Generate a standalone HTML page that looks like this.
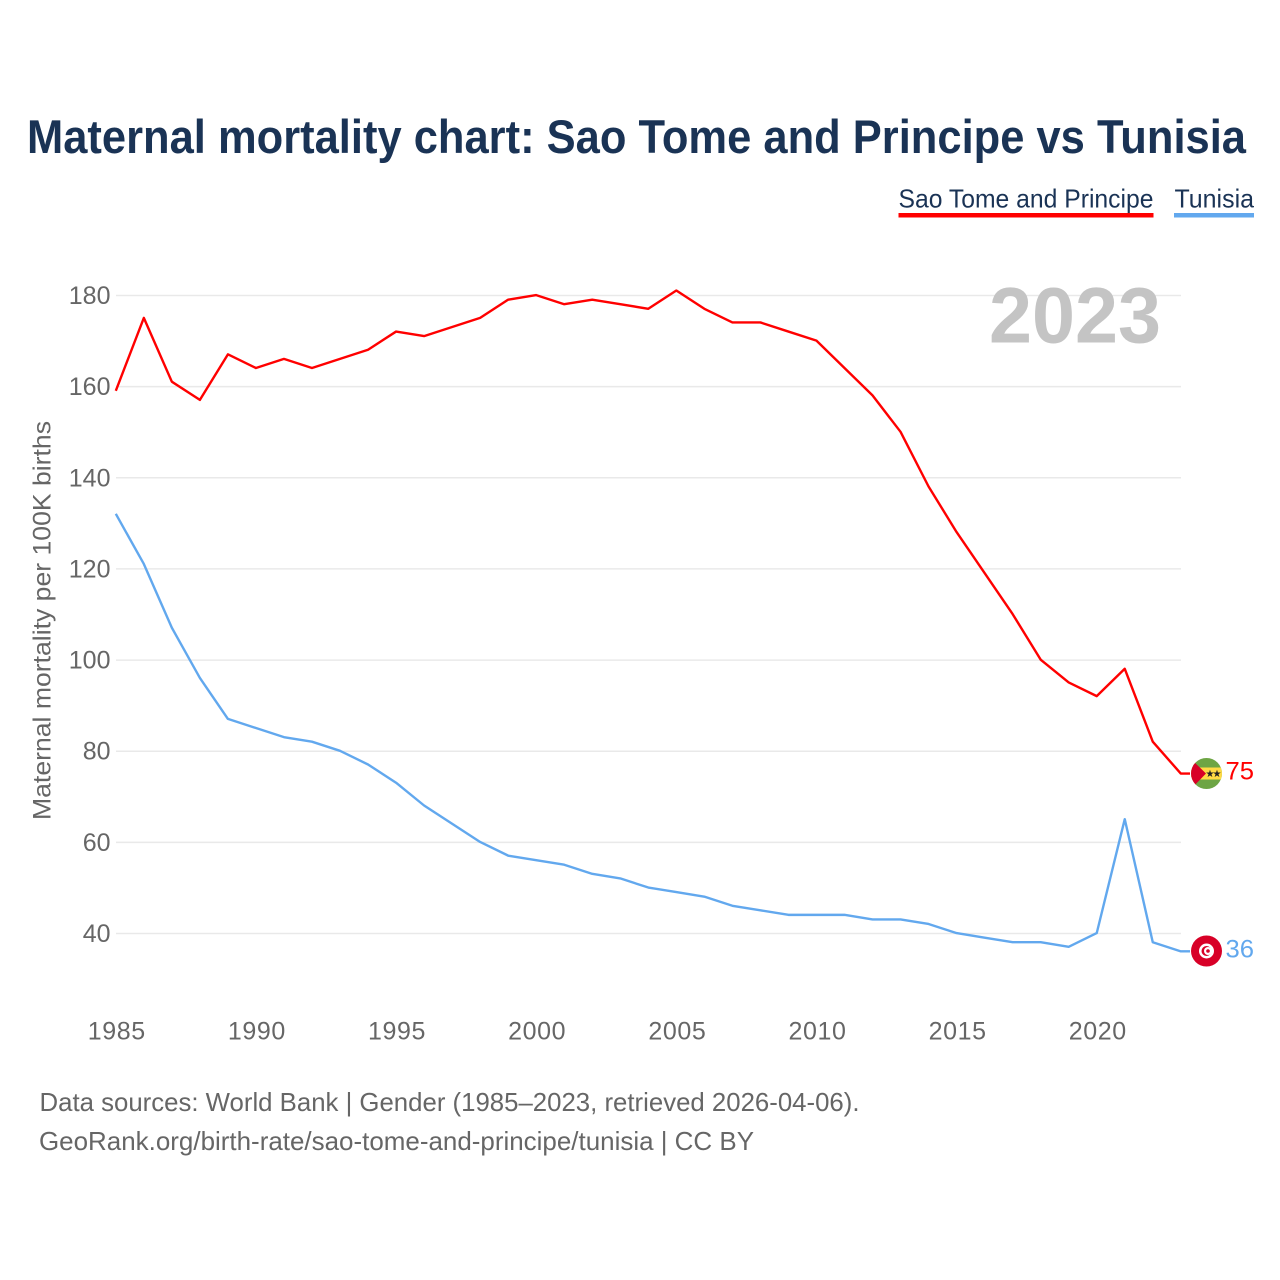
<!DOCTYPE html>
<html lang="en">
<head>
<meta charset="utf-8">
<title>Maternal mortality chart: Sao Tome and Principe vs Tunisia</title>
<style>
html,body{margin:0;padding:0;background:#fff}
svg{display:block;font-family:"Liberation Sans",sans-serif}
</style>
</head>
<body>
<svg id="chart" width="1280" height="1280" viewBox="0 0 1280 1280" xmlns="http://www.w3.org/2000/svg">
<rect width="1280" height="1280" fill="#fff"/>
<text x="27" y="153" font-size="47" font-weight="700" fill="#1a3355" textLength="1219" lengthAdjust="spacingAndGlyphs">Maternal mortality chart: Sao Tome and Principe vs Tunisia</text>
<g>
<g>
<text x="898.5" y="207.5" font-size="26" fill="#1a3355" textLength="255" lengthAdjust="spacingAndGlyphs">Sao Tome and Principe</text>
<rect x="898.5" y="213" width="255" height="4.5" fill="#ff0000"/>
</g>
<g>
<text x="1174.5" y="207.5" font-size="26" fill="#1a3355" textLength="79.5" lengthAdjust="spacingAndGlyphs">Tunisia</text>
<rect x="1174" y="213" width="80" height="4.5" fill="#62a8ee"/>
</g>
</g>
<g id="grid"></g>
<g id="yticks"></g>
<g id="xticks"></g>
<text transform="translate(50.5,620.5) rotate(-90)" text-anchor="middle" font-size="25" fill="#666" textLength="399" lengthAdjust="spacingAndGlyphs">Maternal mortality per 100K births</text>
<text x="989" y="342.5" font-size="79" font-weight="700" fill="#c4c4c4" textLength="172" lengthAdjust="spacingAndGlyphs">2023</text>
<g id="series"></g>
<g>
<clipPath id="stp-clip"><circle cx="1206.5" cy="773.5" r="15.5"/></clipPath>
<g clip-path="url(#stp-clip)">
<rect x="1190" y="758" width="33" height="32" fill="#6da544"/>
<rect x="1190" y="767.5" width="33" height="12" fill="#ffda44"/>
<path d="M1190 758 L1206 773.5 L1190 790 Z" fill="#d80027"/>
<text x="1210" y="777" font-size="10" text-anchor="middle" fill="#222">★</text>
<text x="1217" y="777" font-size="10" text-anchor="middle" fill="#222">★</text>
</g>
</g>
<g>
<circle cx="1206.5" cy="951" r="15.5" fill="#d80027"/>
<circle cx="1206.5" cy="951" r="7.5" fill="#fff"/>
<circle cx="1206.5" cy="951" r="5" fill="#d80027"/>
<circle cx="1208" cy="951" r="4" fill="#fff"/>
<circle cx="1208" cy="951" r="1.8" fill="#d80027"/>
</g>
<text id="label-sao" x="1225.5" y="779.5" font-size="25" fill="#ff0000" textLength="28.5" lengthAdjust="spacingAndGlyphs"></text>
<text id="label-tun" x="1225.5" y="957.5" font-size="25" fill="#62a8ee" textLength="28.5" lengthAdjust="spacingAndGlyphs"></text>
<text x="39.5" y="1111" font-size="26" fill="#666" textLength="820" lengthAdjust="spacingAndGlyphs">Data sources: World Bank | Gender (1985–2023, retrieved 2026-04-06).</text>
<text x="39" y="1150" font-size="26" fill="#666" textLength="715" lengthAdjust="spacingAndGlyphs">GeoRank.org/birth-rate/sao-tome-and-principe/tunisia | CC BY</text>
</svg>
<script>
const startYear = 1985;
const saoTomeValues = [159,175,161,157,167,164,166,164,166,168,172,171,173,175,179,180,178,179,178,177,181,177,174,174,172,170,164,158,150,138,128,119,110,100,95,92,98,82,75];
const tunisiaValues = [132,121,107,96,87,85,83,82,80,77,73,68,64,60,57,56,55,53,52,50,49,48,46,45,44,44,44,43,43,42,40,39,38,38,37,40,65,38,36];
const yTickValues = [40,60,80,100,120,140,160,180];
const xTickValues = [1985,1990,1995,2000,2005,2010,2015,2020];

const NS = 'http://www.w3.org/2000/svg';
const xScale = function (year) { return 115.8 + (year - 1985) * (1180.8 - 115.8) / 38; };
const yScale = function (v) { return 933.5 - (v - 40) * (933.5 - 295.5) / 140; };
const make = function (tag, parent) {
  const el = document.createElementNS(NS, tag);
  parent.appendChild(el);
  return el;
};

const grid = document.getElementById('grid');
const yticks = document.getElementById('yticks');
yTickValues.forEach(function (v) {
  const line = make('line', grid);
  
  
  line.setAttribute('x1', 116);
  line.setAttribute('x2', 1181);
  line.setAttribute('y1', yScale(v));
  line.setAttribute('y2', yScale(v));
  line.setAttribute('stroke', '#e9e9e9');
  line.setAttribute('stroke-width', '1.5');
  const t = make('text', yticks);
  
  
  t.setAttribute('x', 110.5);
  t.setAttribute('y', yScale(v) + 8.5);
  t.setAttribute('text-anchor', 'end');
  t.setAttribute('font-size', '25');
  t.setAttribute('fill', '#666');
  t.textContent = v;
});

const xticks = document.getElementById('xticks');
xTickValues.forEach(function (y) {
  const t = make('text', xticks);
  
  
  t.setAttribute('x', xScale(y) + 1);
  t.setAttribute('y', 1039.5);
  t.setAttribute('text-anchor', 'middle');
  t.setAttribute('font-size', '25');
  t.setAttribute('letter-spacing', '0.6');
  t.setAttribute('fill', '#666');
  t.textContent = y;
});

const seriesGroup = document.getElementById('series');
const drawSeries = function (values, color, name) {
  const last = values[values.length - 1];
  const pts = values.map(function (v, i) {
    return xScale(startYear + i).toFixed(2) + ',' + (yScale(v) - 0.4).toFixed(2);
  });
  pts.push('1190,' + (yScale(last) - 0.4).toFixed(2));
  const line = make('polyline', seriesGroup);
  
  
  line.setAttribute('points', pts.join(' '));
  line.setAttribute('fill', 'none');
  line.setAttribute('stroke', color);
  line.setAttribute('stroke-width', '2.4');
  line.setAttribute('stroke-linejoin', 'round');
};
drawSeries(saoTomeValues, '#ff0000', 'line-sao-tome');
drawSeries(tunisiaValues, '#62a8ee', 'line-tunisia');

document.getElementById('label-sao').textContent = saoTomeValues[saoTomeValues.length - 1];
document.getElementById('label-tun').textContent = tunisiaValues[tunisiaValues.length - 1];
</script>
</body>
</html>
